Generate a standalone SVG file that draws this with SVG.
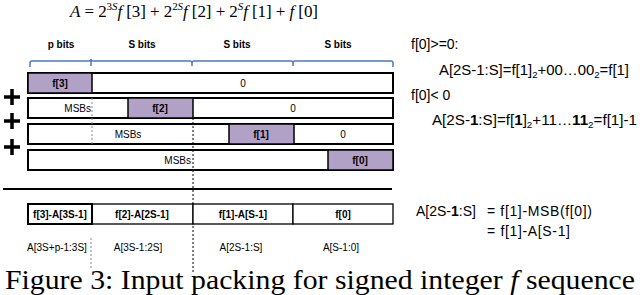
<svg xmlns="http://www.w3.org/2000/svg" width="640" height="295" viewBox="0 0 640 295">
<style>
.t{font-family:"Liberation Sans",Arial,sans-serif;font-size:10px;fill:#000}
.b{font-weight:bold}
.m{text-anchor:middle}
.e{text-anchor:end}
.r{font-family:"Liberation Sans",Arial,sans-serif;font-size:14px;fill:#000}
.row{fill:#fff;stroke:#000;stroke-width:2}
.pu{fill:#b2a1c7;stroke:#000;stroke-width:1.5}
.cell{fill:#fff;stroke:#000;stroke-width:1.3}
.dash{stroke:#000;stroke-width:1;stroke-dasharray:2,2;fill:none}
.gdash{stroke:#888;stroke-width:1;stroke-dasharray:2,2;fill:none}
.br{stroke:#4a78c2;stroke-width:1.5;fill:none}
.plus{stroke:#000;stroke-width:3.5}
.serif{font-family:"Liberation Serif","Times New Roman",serif;fill:#000}
</style>

<g id="formula">
<text class="serif" x="70" y="17" font-size="17" textLength="248" lengthAdjust="spacing"><tspan font-style="italic">A</tspan> = 2<tspan font-size="11" dy="-7">3<tspan font-style="italic">S</tspan></tspan><tspan dy="7" font-style="italic">f</tspan> [3] + 2<tspan font-size="11" dy="-7">2<tspan font-style="italic">S</tspan></tspan><tspan dy="7" font-style="italic">f</tspan> [2] + 2<tspan font-size="11" dy="-7" font-style="italic">S</tspan><tspan dy="7" font-style="italic">f</tspan> [1] + <tspan font-style="italic">f</tspan> [0]</text>
</g>

<g id="bit-labels">
<text class="t b m" x="61" y="48">p bits</text>
<text class="t b m" x="142" y="48">S bits</text>
<text class="t b m" x="237" y="48">S bits</text>
<text class="t b m" x="338" y="48">S bits</text>
<path class="br" d="M30,67 V63 Q30,61 32,61 H89 Q91,61 91,59 Q91,61 93,61 H190 Q192,61 192,63 V66 M192,63 Q192,61 194,61 H291 Q293,61 293,63 V66 M293,63 Q293,61 295,61 H391 Q393,61 393,63 V67 M91,59 V66"/>
</g>

<g id="plus-signs">
<path class="plus" d="M4,97 H20 M12,89 V105"/>
<path class="plus" d="M4,121 H20 M12,113 V129"/>
<path class="plus" d="M4,147 H20 M12,139 V155"/>
</g>

<g id="row1">
<rect class="row" x="28" y="73" width="365" height="20"/>
<rect class="pu" x="28" y="73" width="64" height="20"/>
<text class="t b m" x="60" y="87">f[3]</text>
<text class="t m" x="243" y="87">0</text>
</g>

<g id="row2">
<rect class="row" x="28" y="98" width="365" height="20"/>
<rect class="pu" x="128" y="98" width="65" height="20"/>
<text class="t e" x="91" y="112">MSBs</text>
<text class="t b m" x="160" y="112">f[2]</text>
<text class="t m" x="293" y="112">0</text>
</g>

<g id="row3">
<rect class="row" x="28" y="124" width="365" height="20"/>
<rect class="pu" x="229" y="124" width="65" height="20"/>
<text class="t m" x="128" y="138">MSBs</text>
<text class="t b m" x="261" y="138">f[1]</text>
<text class="t m" x="343" y="138">0</text>
</g>

<g id="row4">
<rect class="row" x="28" y="150" width="365" height="20"/>
<rect class="pu" x="328" y="150" width="65" height="20"/>
<text class="t e" x="191" y="164">MSBs</text>
<text class="t b m" x="360" y="164">f[0]</text>
</g>

<g id="connectors">
<line x1="3" y1="189" x2="392" y2="189" stroke="#000" stroke-width="2"/>
<line class="gdash" x1="92" y1="98" x2="92" y2="145"/>
<line class="dash" x1="193" y1="118" x2="193" y2="272"/>
<line class="gdash" x1="91" y1="238" x2="91" y2="270"/>
</g>

<g id="result-row">
<rect class="cell" x="92" y="204" width="101" height="20"/>
<rect class="cell" x="193" y="204" width="100" height="20"/>
<rect class="cell" x="293" y="204" width="100" height="20"/>
<rect x="28" y="204" width="64" height="20" fill="#fff" stroke="#000" stroke-width="2"/>
<text class="t b m" x="60" y="218">f[3]-A[3S-1]</text>
<text class="t b m" x="142" y="218">f[2]-A[2S-1]</text>
<text class="t b m" x="243" y="218">f[1]-A[S-1]</text>
<text class="t b m" x="343" y="218">f[0]</text>
</g>

<g id="bit-ranges">
<text class="t m" x="57" y="251" font-size="9.5">A[3S+p-1:3S]</text>
<text class="t m" x="138" y="251" font-size="9.5">A[3S-1:2S]</text>
<text class="t m" x="241" y="251" font-size="9.5">A[2S-1:S]</text>
<text class="t m" x="341" y="251" font-size="9.5">A[S-1:0]</text>
</g>

<g id="right-notes">
<text class="r" x="411" y="49">f[0]&gt;=0:</text>
<text class="r" x="439" y="75" textLength="190" lengthAdjust="spacingAndGlyphs">A[2S-1:S]=f[1]<tspan font-size="9" dy="3">2</tspan><tspan dy="-3">+00…00</tspan><tspan font-size="9" dy="3">2</tspan><tspan dy="-3">=f[1]</tspan></text>
<text class="r" x="411" y="100">f[0]&lt; 0</text>
<text class="r" x="432" y="125" textLength="205" lengthAdjust="spacingAndGlyphs">A[2S-<tspan font-weight="bold">1</tspan>:S]=f[<tspan font-weight="bold">1</tspan>]<tspan font-size="9" dy="3">2</tspan><tspan dy="-3">+11…</tspan><tspan font-weight="bold">11</tspan><tspan font-size="9" dy="3">2</tspan><tspan dy="-3">=f[1]-1</tspan></text>
<text class="r" x="416" y="216" font-size="13">A[2S-<tspan font-weight="bold">1</tspan>:S]</text>
<text class="r" x="487" y="216" font-size="13.5" textLength="105" lengthAdjust="spacing">= f[1]-MSB(f[0])</text>
<text class="r" x="487" y="236" font-size="13.5" textLength="83" lengthAdjust="spacing">= f[1]-A[S-1]</text>
</g>

<g id="caption">
<text class="serif" x="5" y="289" font-size="28" textLength="630" lengthAdjust="spacingAndGlyphs">Figure 3: Input packing for signed integer <tspan font-style="italic">f</tspan> sequence</text>
</g>
</svg>
